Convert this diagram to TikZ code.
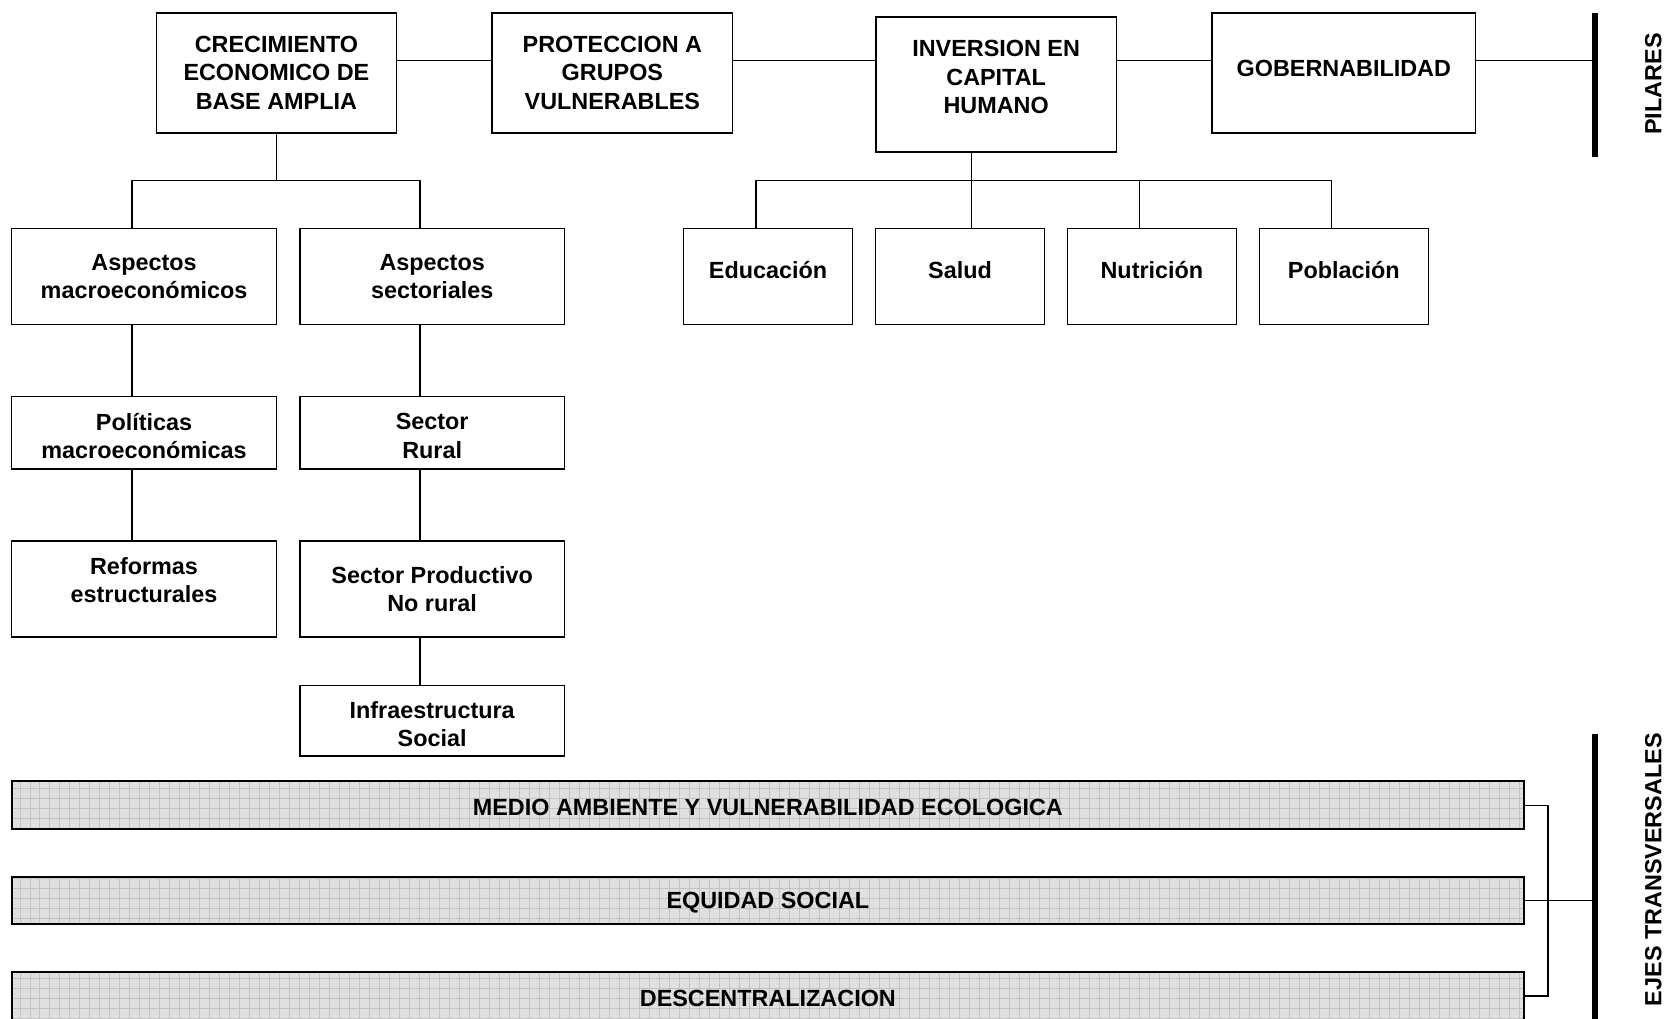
\documentclass[tikz,border=0pt]{standalone}
\usepackage{fontspec}
\setmainfont{Liberation Sans}
\usepackage{tikz}
\usetikzlibrary{patterns.meta}
\tikzset {
  % plain boxes
  main/.style = {draw, line width=1.4pt, inner sep=0pt, align=center},
  pillar/.style = {main, minimum width=226pt, minimum height=113pt},
  topic/.style = {main, minimum width=249pt},
  area/.style = {main, minimum width=159pt, minimum height=90pt},
  % shaded cross-cutting bars
  axis/.style = {draw, line width=1.8pt, preaction={fill=black!12},
    pattern={Hatch[angle=0, distance=9.4pt, line width=0.9pt]}, pattern color=black!24,
    inner sep=0pt, text height=19pt, minimum width=1422.5pt, minimum height=45pt},
  % thick side rails and thin links
  rail/.style = {line width=5.6pt},
  link/.style = {line width=1.4pt},
  side/.style = {rotate=90},
}

\begin{document}
\begin{tikzpicture}[x=1pt, y=-1pt, font=\fontsize{22}{26.5}\selectfont\bfseries]

        \useasboundingbox (0, 0) rectangle (1568, 958);

        \node[pillar] (crec) at (260, 68.5) {CRECIMIENTO\\ECONOMICO DE\\BASE AMPLIA};
        \node[pillar] (prot) at (576, 68.5) {PROTECCION A\\GRUPOS\\VULNERABLES};
        \node[pillar, minimum height=127pt,
          label={[align=center, yshift=7pt]center:INVERSION EN\\CAPITAL\\HUMANO}] (inv) at (937, 79.5) {};
        \node[pillar, minimum width=248pt,
          label={[yshift=4.5pt]center:GOBERNABILIDAD}] (gob) at (1264, 68.5) {};

        \node[topic, minimum height=90pt] (macro) at (135.5, 260) {Aspectos\\macroeconómicos};
        \node[topic, minimum height=90pt] (sect) at (406.5, 260) {Aspectos\\sectoriales};

        \node[area, label={[yshift=6pt]center:Educación}] (educ) at (722.5, 260) {};
        \node[area, label={[yshift=6pt]center:Salud}] (salud) at (903, 260) {};
        \node[area, label={[yshift=6pt]center:Nutrición}] (nutri) at (1083.5, 260) {};
        \node[area, label={[yshift=6pt]center:Población}] (pobl) at (1264, 260) {};

        \node[topic, minimum height=68pt,
          label={[align=center, yshift=-3pt]center:Políticas\\macroeconómicas}] (polit) at (135.5, 407) {};
        \node[topic, minimum height=68pt,
          label={[align=center, yshift=-3pt]center:Sector\\Rural}] (rural) at (406.5, 407) {};

        \node[topic, minimum height=90pt,
          label={[align=center, yshift=8.5pt]center:Reformas\\estructurales}] (reform) at (135.5, 554) {};
        \node[topic, minimum height=90pt] (prod) at (406.5, 554) {Sector Productivo\\No rural};

        \node[topic, minimum height=66pt,
          label={[align=center, yshift=-3pt]center:Infraestructura\\Social}] (infra) at (406.5, 678) {};

        \node[axis] (eje1) at (722.25, 757.5) {MEDIO AMBIENTE Y VULNERABILIDAD ECOLOGICA};
        \node[axis] (eje2) at (722.25, 847) {EQUIDAD SOCIAL};
        \node[axis] (eje3) at (722.25, 937) {DESCENTRALIZACION};

        \node[side] (pilares) at (1555, 79) {PILARES};
        \node[side] (ejes) at (1555, 818) {EJES TRANSVERSALES};

        \coordinate (spine) at (0, 57);
        \coordinate (pilT) at (1500, 12.5);
        \coordinate (pilB) at (1500, 147.5);
        \coordinate (ejeT) at (1500, 690);
        \coordinate (ejeB) at (1500, 962);
        \coordinate (busA) at (260, 170);
        \coordinate (busB) at (914, 170);
        \coordinate (brk) at (1456, 847);

        \draw[rail] (pilT) -- (pilB);
        \draw[rail] (ejeT) -- (ejeB);

        \draw[link] (crec.east |- spine) -- (prot.west |- spine);
        \draw[link] (prot.east |- spine) -- (inv.west |- spine);
        \draw[link] (inv.east |- spine) -- (gob.west |- spine);
        \draw[link] (gob.east |- spine) -- (pilT |- spine);

        \draw[link] (crec.south) -- (busA);
        \draw[link] ([xshift=-11.5pt]macro.north) |- (busA) -| ([xshift=-11.5pt]sect.north);
        \draw[link] ([xshift=-11.5pt]macro.south) -- ([xshift=-11.5pt]polit.north);
        \draw[link] ([xshift=-11.5pt]polit.south) -- ([xshift=-11.5pt]reform.north);
        \draw[link] ([xshift=-11.5pt]sect.south) -- ([xshift=-11.5pt]rural.north);
        \draw[link] ([xshift=-11.5pt]rural.south) -- ([xshift=-11.5pt]prod.north);
        \draw[link] ([xshift=-11.5pt]prod.south) -- ([xshift=-11.5pt]infra.north);

        \draw[link] ([xshift=-23pt]inv.south) -- (busB);
        \draw[link] ([xshift=-11.5pt]educ.north) |- (busB) -| ([xshift=-11.5pt]pobl.north);
        \draw[link] (busB) -- ([xshift=11pt]salud.north);
        \draw[link] ([xshift=-11.5pt]nutri.north) |- (busB);

        \draw[link] (eje1.east) -| (brk) |- (eje3.east);
        \draw[link] (eje2.east) -- (ejeT |- eje2.east);

\end{tikzpicture}
\end{document}
